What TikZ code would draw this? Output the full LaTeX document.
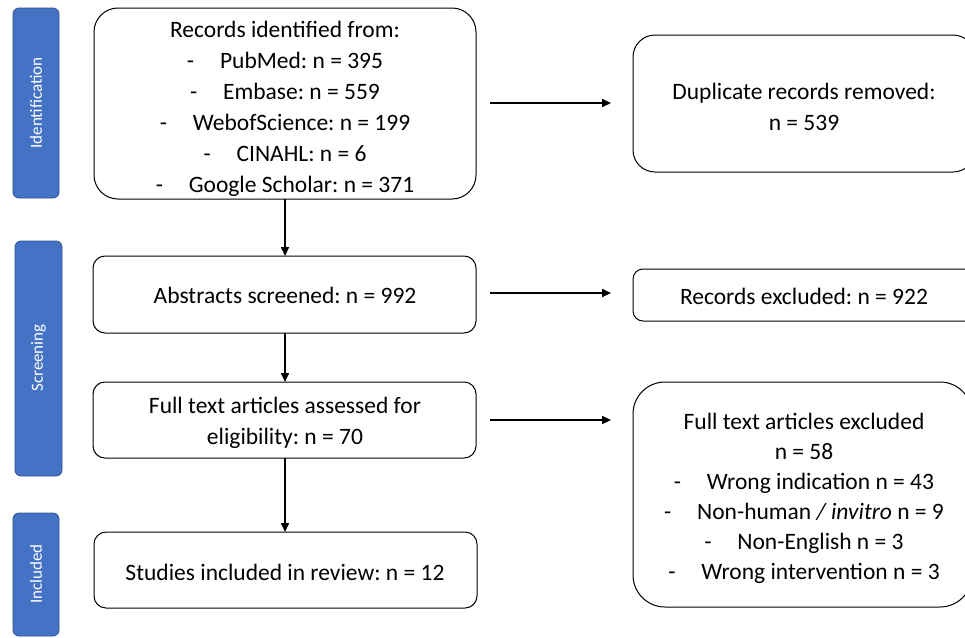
\documentclass[tikz,border=0pt]{standalone}
\usepackage{fontspec}
\setmainfont{Carlito}
\frenchspacing
\usetikzlibrary{arrows.meta}
\definecolor{sidebar}{HTML}{4472C4}
\definecolor{sideedge}{HTML}{2F528F}
\begin{document}
\begin{tikzpicture}[x=1pt,y=-1pt,
  box/.style={draw=black, line width=1pt, align=center, font=\fontsize{23.5}{31}\selectfont, inner sep=0pt},
  side/.style={draw=sideedge, fill=sidebar, line width=0.8pt, rounded corners=6pt},
  sidetext/.style={text=white, rotate=90, font=\fontsize{17}{20}\selectfont},
  arr/.style={-{Triangle[length=9pt,width=8pt]}, line width=2pt},
  vline/.style={-{Triangle[length=9pt,width=8pt]}, line width=1.6pt}]
\useasboundingbox (0,0) rectangle (965,637);
% sidebars
\draw[side] (13,8) rectangle (59,198);
\node[sidetext] (lid) at (36,103) {Identification};
\draw[side] (15,241) rectangle (62,476);
\node[sidetext] (lsc) at (38.5,358) {Screening};
\draw[side] (13,513) rectangle (59,636);
\node[sidetext] (lin) at (36,574) {Included};
% main boxes
\draw[box, rounded corners=24pt] (94,8) rectangle (476,199);
\node[box, draw=none] (b1) at (285,109) {Records identified from:\\
-\hspace{1.1em}PubMed: n = 395\\
-\hspace{1.1em}Embase: n = 559\\
-\hspace{1.1em}WebofScience: n = 199\\
-\hspace{1.1em}CINAHL: n = 6\\
-\hspace{1.1em}Google Scholar: n = 371};
\draw[box, rounded corners=22pt] (633,35) rectangle (975,172);
\node[box, draw=none] (dup) at (804,107) {Duplicate records removed:\\n = 539};
\draw[box, rounded corners=12pt] (93,256) rectangle (476,333);
\node[box, draw=none] (abs) at (285,295) {Abstracts screened: n = 992};
\draw[box, rounded corners=10pt] (633,269) rectangle (980,321);
\node[box, draw=none] (rex) at (804,296) {Records excluded: n = 922};
\draw[box, rounded corners=12pt] (93,382) rectangle (476,458);
\node[box, draw=none] (fta) at (285,423) {Full text articles assessed for\\eligibility: n = 70};
\draw[box, rounded corners=32pt] (633,382) rectangle (972,607);
\node[box, draw=none, font=\fontsize{23.5}{30}\selectfont] (fte) at (804,498) {Full text articles excluded\\
n = 58\\
-\hspace{1.1em}Wrong indication n = 43\\
-\hspace{1.1em}Non-human \textit{/ invitro} n = 9\\
-\hspace{1.1em}Non-English n = 3\\
-\hspace{1.1em}Wrong intervention n = 3};
\draw[box, rounded corners=12pt] (94,532) rectangle (477,608);
\node[box, draw=none] (inc) at (285,572) {Studies included in review: n = 12};
% arrows
\coordinate (h1s) at (490,103); \coordinate (h1e) at (611,103);
\draw[arr] (h1s) -- (h1e);
\coordinate (h2s) at (490,293); \coordinate (h2e) at (611,293);
\draw[arr] (h2s) -- (h2e);
\coordinate (h3s) at (490,420); \coordinate (h3e) at (611,420);
\draw[arr] (h3s) -- (h3e);
\coordinate (v1s) at (285,199); \coordinate (v1e) at (285,256);
\draw[vline] (v1s) -- (v1e);
\coordinate (v2s) at (285,333); \coordinate (v2e) at (285,382);
\draw[vline] (v2s) -- (v2e);
\coordinate (v3s) at (285,458); \coordinate (v3e) at (285,532);
\draw[vline] (v3s) -- (v3e);
\end{tikzpicture}
\end{document}
